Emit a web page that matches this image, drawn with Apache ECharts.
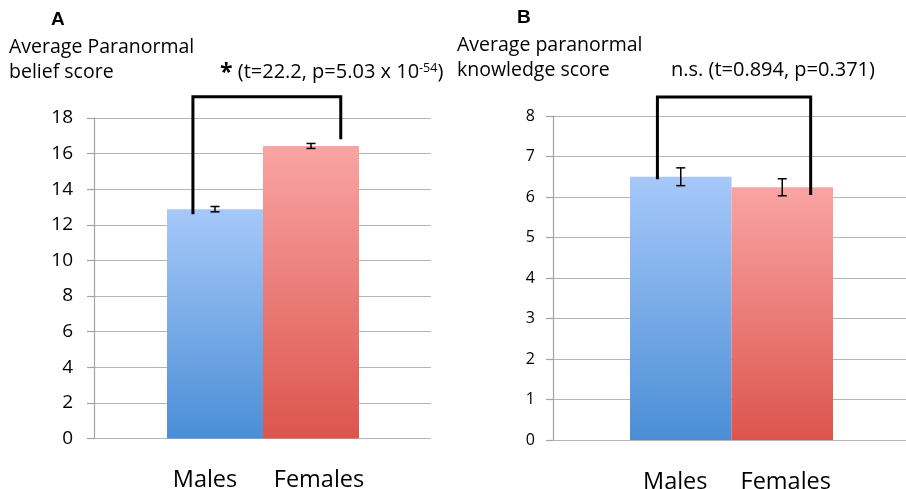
<!DOCTYPE html>
<html>
<head>
<meta charset="utf-8">
<script src="https://cdn.jsdelivr.net/npm/echarts@6/dist/echarts.min.js"></script>
<style>html,body{margin:0;padding:0;background:#fff}#c{width:906px;height:489px}</style>
</head>
<body>
<div id="c"></div>
<script>
const categories = ['Males', 'Females'];
const beliefMeans = [12.88, 16.43];
const beliefErr = [0.15, 0.14];
const knowledgeMeans = [6.50, 6.24];
const knowledgeErr = [0.22, 0.21];
const beliefAxis = { min: 0, max: 18, interval: 2 };
const knowledgeAxis = { min: 0, max: 8, interval: 1 };
// significance brackets, x in bar units (Males = 0, Females = 1), y in axis units
const bracketA = [[-0.23, 12.6], [-0.23, 19.2], [1.31, 19.2], [1.31, 16.8]];
const bracketB = [[-0.23, 6.44], [-0.23, 8.47], [1.28, 8.47], [1.28, 6.05]];

const FONT = '"Open Sans", sans-serif';
const chart = echarts.init(document.getElementById('c'), null, { renderer: 'canvas' });

function grad(top, bottom) {
  return new echarts.graphic.LinearGradient(0, 0, 0, 1, [
    { offset: 0, color: top }, { offset: 1, color: bottom }
  ]);
}
const barColors = [grad('#a6c8f9', '#4b8ed6'), grad('#f9a4a3', '#dc554d')];

function barData(vals) {
  return vals.map((v, i) => ({ value: v, itemStyle: { color: barColors[i] } }));
}
function errData(means, errs) {
  return means.map((m, i) => [i, m, errs[i]]);
}
function errRender(params, api) {
  const x = api.value(0), m = api.value(1), e = api.value(2);
  const hi = api.coord([x, m + e]);
  const lo = api.coord([x, m - e]);
  const w = 4.5;
  const style = { stroke: '#000', lineWidth: 1.5 };
  return {
    type: 'group',
    children: [
      { type: 'line', shape: { x1: hi[0], y1: hi[1], x2: lo[0], y2: lo[1] }, style },
      { type: 'line', shape: { x1: hi[0] - w, y1: hi[1], x2: hi[0] + w, y2: hi[1] }, style },
      { type: 'line', shape: { x1: lo[0] - w, y1: lo[1], x2: lo[0] + w, y2: lo[1] }, style }
    ]
  };
}

function valueY(gridIndex, ax, labelSize, margin) {
  return {
    gridIndex, type: 'value', min: ax.min, max: ax.max, interval: ax.interval,
    axisLine: { show: true, lineStyle: { color: '#a3a3a3', width: 1.2 } },
    axisTick: { show: true, inside: false, length: 7, lineStyle: { color: '#a3a3a3', width: 1.2 } },
    splitLine: { show: true, lineStyle: { color: '#b4b4b4', width: 1.2 } },
    axisLabel: { fontFamily: FONT, fontSize: labelSize, color: '#000', margin }
  };
}
function hiddenY(gridIndex, ax) {
  return { gridIndex, type: 'value', min: ax.min, max: ax.max, interval: ax.interval, show: false };
}
// label nudges (padding) so the text sits where the reference places it
function catX(gridIndex, pads) {
  return {
    gridIndex, type: 'category',
    data: categories.map((c, i) => ({ value: c, textStyle: { padding: pads[i] } })),
    axisLine: { show: false }, axisTick: { show: false },
    axisLabel: { interval: 0, hideOverlap: false, fontFamily: FONT, fontSize: 23.5, color: '#000', margin: 30 }
  };
}

const textStyle = { fontFamily: FONT, fontSize: 19.5, fontWeight: 'normal', color: '#000', lineHeight: 25 };
const statStyle = Object.assign({}, textStyle, { fontSize: 20 });
const letterStyle = { fontFamily: 'Liberation Sans, Arial', fontWeight: 'bold', fontSize: 19, color: '#000' };

const option = {
  animation: false,
  backgroundColor: '#fff',
  title: [
    { text: 'A', left: 51, top: 10, padding: 0, textStyle: letterStyle },
    { text: 'Average Paranormal\nbelief score', left: 9, top: 35, padding: 0, textStyle },
    { text: '{ast|*} (t=22.2, p=5.03 x 10{sup|-54})', left: 220, top: 60, padding: 0,
      textStyle: Object.assign({}, statStyle, { rich: {
        ast: { fontFamily: FONT, fontSize: 23, fontWeight: 'bold', color: '#000', lineHeight: 25, verticalAlign: 'bottom' },
        sup: { fontFamily: FONT, fontSize: 12.5, color: '#000', lineHeight: 25, padding: [0, 0, 9, 0] }
      } }) },
    { text: 'B', left: 517, top: 8, padding: 0, textStyle: letterStyle },
    { text: 'Average paranormal\nknowledge score', left: 457, top: 33, padding: 0, textStyle },
    { text: 'n.s. (t=0.894, p=0.371)', left: 671, top: 58, padding: 0, textStyle: statStyle }
  ],
  grid: [
    { left: 94, right: 475, top: 118, bottom: 50.5, outerBoundsMode: 'none', containLabel: false },
    { left: 167, right: 547, top: 118, bottom: 50.5, outerBoundsMode: 'none', containLabel: false },
    { left: 553, right: -5, top: 116, bottom: 49, outerBoundsMode: 'none', containLabel: false },
    { left: 630, right: 73, top: 116, bottom: 49, outerBoundsMode: 'none', containLabel: false }
  ],
  xAxis: [
    { gridIndex: 0, type: 'value', min: 0, max: 1, show: false },
    catX(1, [[0, 20, 0, 0], [0, 0, 0, 16]]),
    { gridIndex: 1, type: 'value', min: -0.5, max: 1.5, show: false },
    { gridIndex: 2, type: 'value', min: 0, max: 1, show: false },
    catX(3, [[0, 11, 0, 0], [0, 0, 0, 7]]),
    { gridIndex: 3, type: 'value', min: -0.5, max: 1.5, show: false }
  ],
  yAxis: [
    valueY(0, beliefAxis, 19, 21),
    hiddenY(1, beliefAxis),
    valueY(2, knowledgeAxis, 16, 18),
    hiddenY(3, knowledgeAxis)
  ],
  series: [
    { type: 'bar', xAxisIndex: 1, yAxisIndex: 1, barCategoryGap: '0%', data: barData(beliefMeans), z: 2 },
    { type: 'custom', xAxisIndex: 1, yAxisIndex: 1, renderItem: errRender, data: errData(beliefMeans, beliefErr), z: 5 },
    { type: 'line', xAxisIndex: 2, yAxisIndex: 1, data: bracketA, symbol: 'none', clip: false,
      lineStyle: { color: '#000', width: 3, join: 'miter', cap: 'butt' }, z: 6 },
    { type: 'bar', xAxisIndex: 4, yAxisIndex: 3, barCategoryGap: '0%', data: barData(knowledgeMeans), z: 2 },
    { type: 'custom', xAxisIndex: 4, yAxisIndex: 3, renderItem: errRender, data: errData(knowledgeMeans, knowledgeErr), z: 5 },
    { type: 'line', xAxisIndex: 5, yAxisIndex: 3, data: bracketB, symbol: 'none', clip: false,
      lineStyle: { color: '#000', width: 3, join: 'miter', cap: 'butt' }, z: 6 }
  ]
};
chart.setOption(option);
</script>
</body>
</html>
